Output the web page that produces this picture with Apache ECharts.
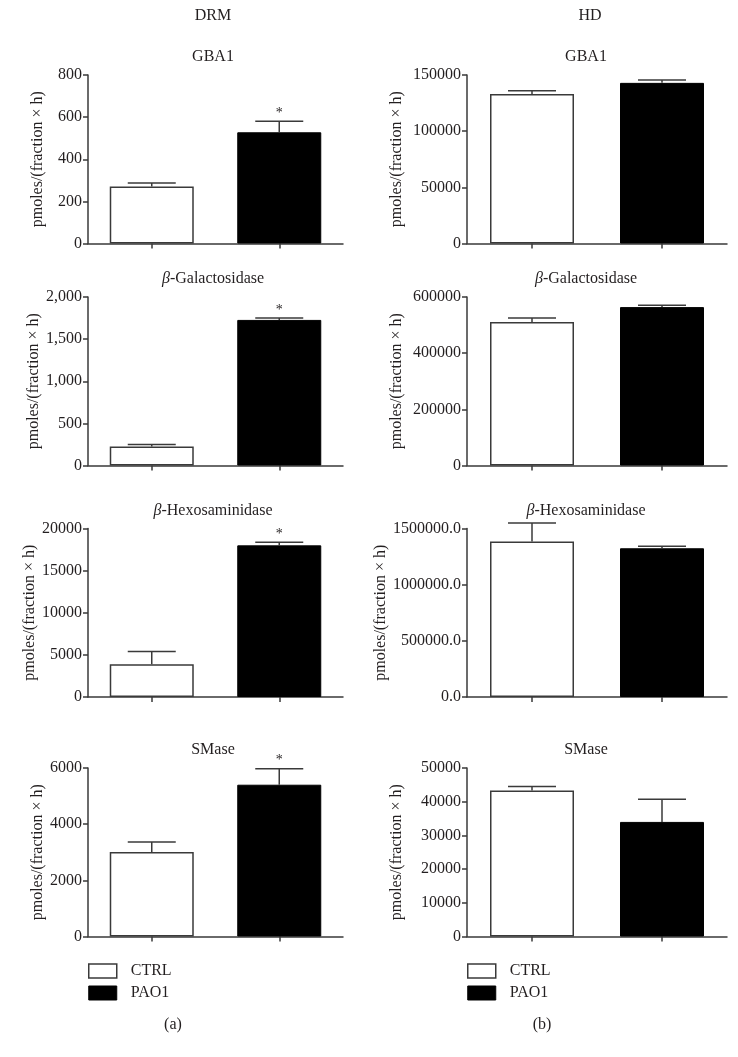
<!DOCTYPE html>
<html>
<head>
<meta charset="utf-8">
<script src="https://cdn.jsdelivr.net/npm/echarts@6/dist/echarts.min.js"></script>
<style>
html,body{margin:0;padding:0;background:#fff;}
#chart{width:738px;height:1057px;}
</style>
</head>
<body>
<div id="chart"></div>
<script>
// ---------- DATA ----------
const categories = ['CTRL', 'PAO1'];
const columnHeaders = ['DRM', 'HD'];
const panelLabels = ['(a)', '(b)'];
const panelTitles = ['GBA1', '{i|β}-Galactosidase', '{i|β}-Hexosaminidase', 'SMase'];
const yAxisName = 'pmoles/(fraction × h)';

// DRM (left column): mean values [CTRL, PAO1] and SEM
const drmGBA1 = [271, 528];
const drmGBA1Err = [16, 52];
const drmBGal = [225, 1728];
const drmBGalErr = [23, 23];
const drmBHex = [3900, 18000];
const drmBHexErr = [1490, 380];
const drmSMase = [3007, 5405];
const drmSMaseErr = [356, 570];
const drmStars = [[0, 1], [0, 1], [0, 1], [0, 1]];

// HD (right column)
const hdGBA1 = [133000, 143000];
const hdGBA1Err = [3000, 2500];
const hdBGal = [511000, 564000];
const hdBGalErr = [14000, 7000];
const hdBHex = [1384000, 1324000];
const hdBHexErr = [164000, 18000];
const hdSMase = [43300, 34000];
const hdSMaseErr = [1200, 6700];
const hdStars = [[0, 0], [0, 0], [0, 0], [0, 0]];

// Axis ranges / ticks
const drmMax = [800, 2000, 20000, 6000];
const drmInterval = [200, 500, 5000, 2000];
const hdMax = [150000, 600000, 1500000, 50000];
const hdInterval = [50000, 200000, 500000, 10000];

// ---------- LAYOUT ----------
const FONT = '"Liberation Serif", "DejaVu Serif", serif';
const TXT = '#231f20';
const AX = '#3a3a3a';
const rowTops = [75, 297, 528.5, 768];
const plotH = 168.5;
const cols = [{left: 88, width: 255, titleX: 213, headerX: 213, nameGap: 42},
              {left: 467, width: 260, titleX: 586, headerX: 590, nameGap: 62}];

const drmMeans = [drmGBA1, drmBGal, drmBHex, drmSMase];
const drmErrs = [drmGBA1Err, drmBGalErr, drmBHexErr, drmSMaseErr];
const hdMeans = [hdGBA1, hdBGal, hdBHex, hdSMase];
const hdErrs = [hdGBA1Err, hdBGalErr, hdBHexErr, hdSMaseErr];

const formatters = [
  [v => String(v), v => v.toLocaleString('en-US'), v => String(v), v => String(v)],
  [v => String(v), v => String(v), v => v.toFixed(1), v => String(v)]
];

const grids = [], xAxes = [], yAxes = [], series = [], graphics = [];

function errRender(params, api) {
  const idx = api.value(0), mean = api.value(1), err = api.value(2), star = api.value(3);
  const base = api.coord([idx, mean]);
  const top = api.coord([idx, mean + err]);
  const half = 24;
  const children = [
    {type: 'line', shape: {x1: base[0], y1: base[1], x2: top[0], y2: top[1]},
     style: {stroke: AX, lineWidth: 1.5}},
    {type: 'line', shape: {x1: top[0] - half, y1: top[1], x2: top[0] + half, y2: top[1]},
     style: {stroke: AX, lineWidth: 1.5}}
  ];
  if (star) {
    children.push({type: 'text', style: {text: '*', x: top[0], y: top[1] - 8,
      textAlign: 'center', textVerticalAlign: 'middle', fontSize: 14, fontFamily: FONT, fill: TXT}});
  }
  return {type: 'group', children};
}

[0, 1].forEach(c => {
  const means = c === 0 ? drmMeans : hdMeans;
  const errs = c === 0 ? drmErrs : hdErrs;
  const stars = c === 0 ? drmStars : hdStars;
  const maxes = c === 0 ? drmMax : hdMax;
  const ints = c === 0 ? drmInterval : hdInterval;
  const col = cols[c];
  for (let r = 0; r < 4; r++) {
    const gi = grids.length;
    grids.push({left: col.left, top: rowTops[r], width: col.width, height: plotH, containLabel: false});
    xAxes.push({type: 'category', gridIndex: gi, data: categories,
      axisLine: {show: true, lineStyle: {color: AX, width: 1.5}},
      axisTick: {show: true, alignWithLabel: true, length: 5, lineStyle: {color: AX, width: 1.5}},
      axisLabel: {show: false}, splitLine: {show: false}});
    yAxes.push({type: 'value', gridIndex: gi, min: 0, max: maxes[r], interval: ints[r],
      name: yAxisName, nameLocation: 'middle', nameGap: col.nameGap,
      nameTextStyle: {fontFamily: FONT, fontSize: 16, color: TXT},
      axisLine: {show: true, lineStyle: {color: AX, width: 1.5}},
      axisTick: {show: true, length: 5, lineStyle: {color: AX, width: 1.5}},
      axisLabel: {fontFamily: FONT, fontSize: 16, color: TXT, margin: 6, formatter: formatters[c][r]},
      splitLine: {show: false}});
    series.push({type: 'bar', name: 'CTRL', xAxisIndex: gi, yAxisIndex: gi, barWidth: 84, barGap: '-100%',
      data: [means[r][0], '-'],
      itemStyle: {color: '#ffffff', borderColor: AX, borderWidth: 1.5}, silent: true});
    series.push({type: 'bar', name: 'PAO1', xAxisIndex: gi, yAxisIndex: gi, barWidth: 84, barGap: '-100%',
      data: ['-', means[r][1]],
      itemStyle: {color: '#000000', borderColor: '#000000', borderWidth: 1}, silent: true});
    series.push({type: 'custom', xAxisIndex: gi, yAxisIndex: gi, renderItem: errRender, z: 5, silent: true,
      data: [[0, means[r][0], errs[r][0], stars[r][0]], [1, means[r][1], errs[r][1], stars[r][1]]]});
    graphics.push({type: 'text', left: 'auto', x: col.titleX, y: rowTops[r] - 18,
      style: {text: panelTitles[r], textAlign: 'center', textVerticalAlign: 'middle',
        fontFamily: FONT, fontSize: 16, fill: TXT, rich: {i: {fontStyle: 'italic', fontFamily: FONT, fontSize: 16, fill: TXT}}}});
  }
  graphics.push({type: 'text', x: col.headerX, y: 16,
    style: {text: columnHeaders[c], textAlign: 'center', textVerticalAlign: 'middle', fontFamily: FONT, fontSize: 16, fill: TXT}});
  graphics.push({type: 'text', x: c === 0 ? 173 : 542, y: 1025,
    style: {text: panelLabels[c], textAlign: 'center', textVerticalAlign: 'middle', fontFamily: FONT, fontSize: 16, fill: TXT}});
});

const legendBase = {orient: 'vertical', top: 963, itemWidth: 28, itemHeight: 14, itemGap: 6,
  icon: 'rect', selectedMode: false, padding: 0,
  textStyle: {fontFamily: FONT, fontSize: 16, color: TXT, padding: [0, 0, 0, 9]},
  data: [{name: 'CTRL', itemStyle: {color: '#fff', borderColor: AX, borderWidth: 1.5}},
         {name: 'PAO1', itemStyle: {color: '#000', borderColor: '#000', borderWidth: 1}}]};

const option = {
  backgroundColor: '#ffffff',
  animation: false,
  grid: grids,
  xAxis: xAxes,
  yAxis: yAxes,
  series: series,
  legend: [Object.assign({}, legendBase, {left: 88}), Object.assign({}, legendBase, {left: 467})],
  graphic: graphics
};

const chart = echarts.init(document.getElementById('chart'), null, {renderer: 'canvas'});
chart.setOption(option);
</script>
</body>
</html>
